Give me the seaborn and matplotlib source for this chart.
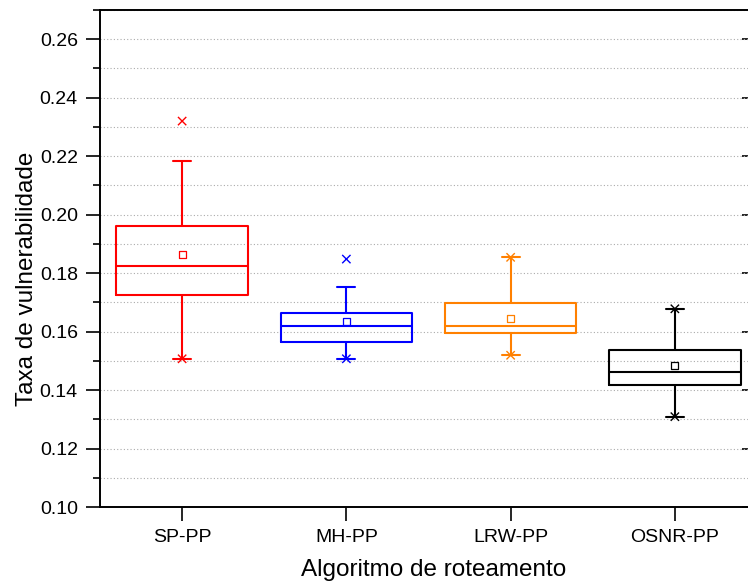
import matplotlib
matplotlib.use("Agg")
import matplotlib.pyplot as plt
from matplotlib.ticker import MultipleLocator, FormatStrFormatter
import pandas as pd
import seaborn as sns

# Box statistics (Origin-style box chart)
algorithms = ["SP-PP", "MH-PP", "LRW-PP", "OSNR-PP"]
colors = ["#FF0000", "#0000FF", "#FF8000", "#000000"]

whisker_low = [0.1507, 0.1507, 0.1519, 0.1309]
q1 = [0.1726, 0.1565, 0.1595, 0.1418]
median = [0.1826, 0.1619, 0.1619, 0.1461]
q3 = [0.1960, 0.1664, 0.1697, 0.1538]
whisker_high = [0.2184, 0.1752, 0.1854, 0.1678]
means = [0.1865, 0.1633, 0.1644, 0.1483]

# min / max of each sample (drawn as "x")
data_min = [0.1507, 0.1507, 0.1519, 0.1309]
data_max = [0.2320, 0.1848, 0.1854, 0.1678]


def restyle_open(ax, start, lw):
    """Turn the scatter collections added after `start` into open markers."""
    for coll in ax.collections[start:]:
        fc = coll.get_facecolors()
        coll.set_edgecolors(fc)
        coll.set_facecolors("none")
        coll.set_linewidths(lw)


sns.set_theme(style="ticks", rc={
    "axes.edgecolor": "black", "xtick.color": "black", "ytick.color": "black",
    "axes.labelcolor": "black", "text.color": "black",
})
plt.rcParams["font.family"] = ["Liberation Sans", "DejaVu Sans"]

palette = dict(zip(algorithms, colors))

# five summary points per group -> seaborn's quartiles land exactly on them
box_df = pd.DataFrame({
    "alg": [a for a in algorithms for _ in range(5)],
    "value": [v for row in zip(whisker_low, q1, median, q3, whisker_high) for v in row],
})
mean_df = pd.DataFrame({"alg": algorithms, "value": means})
ends_df = pd.DataFrame({"alg": algorithms + algorithms, "value": data_min + data_max})

fig = plt.figure(figsize=(7.48, 5.81), dpi=100)
ax = fig.add_axes([100 / 748, 74 / 581, 657 / 748, 497 / 581])

sns.boxplot(
    data=box_df, x="alg", y="value", hue="alg",
    order=algorithms, hue_order=algorithms, palette=palette,
    fill=False, width=0.8, whis=(0, 100), showfliers=False,
    linewidth=1.5, capwidths=0.11, legend=False, ax=ax,
)

n0 = len(ax.collections)
sns.stripplot(data=mean_df, x="alg", y="value", hue="alg", order=algorithms,
              hue_order=algorithms, palette=palette, jitter=False, marker="s",
              size=5, linewidth=1, legend=False, ax=ax)
restyle_open(ax, n0, 0.9)

n0 = len(ax.collections)
sns.stripplot(data=ends_df, x="alg", y="value", hue="alg", order=algorithms,
              hue_order=algorithms, palette=palette, jitter=False, marker="x",
              size=6, linewidth=1, legend=False, ax=ax)
restyle_open(ax, n0, 1.0)

ax.set_xlim(-0.5, 3.5)
ax.set_ylim(0.10, 0.27)
ax.yaxis.set_major_locator(MultipleLocator(0.02))
ax.yaxis.set_minor_locator(MultipleLocator(0.01))
ax.yaxis.set_major_formatter(FormatStrFormatter("%.2f"))

ax.set_axisbelow(True)
ax.yaxis.grid(True, which="both", color="#ababab", linestyle=(0, (1, 2)), linewidth=0.8)
ax.xaxis.grid(False)

for side in ["left", "bottom", "top", "right"]:
    ax.spines[side].set_linewidth(1.4)
    ax.spines[side].set_color("black")

ax.tick_params(axis="both", which="major", direction="out", length=10, width=1.2,
               labelsize=14, pad=6)
ax.tick_params(axis="y", which="minor", direction="out", length=5, width=1.2)
ax.tick_params(top=False, right=False)

sec = ax.secondary_yaxis("right")
sec.yaxis.set_major_locator(MultipleLocator(0.02))
sec.tick_params(direction="in", length=11, width=1.2, labelright=False)

ax.set_xlabel("Algoritmo de roteamento", fontsize=17.5)
ax.set_ylabel("Taxa de vulnerabilidade", fontsize=17.5)
ax.xaxis.set_label_coords(0.5076, -0.104)
ax.yaxis.set_label_coords(-0.094, 0.459)

fig.savefig("out.png", dpi=100)
